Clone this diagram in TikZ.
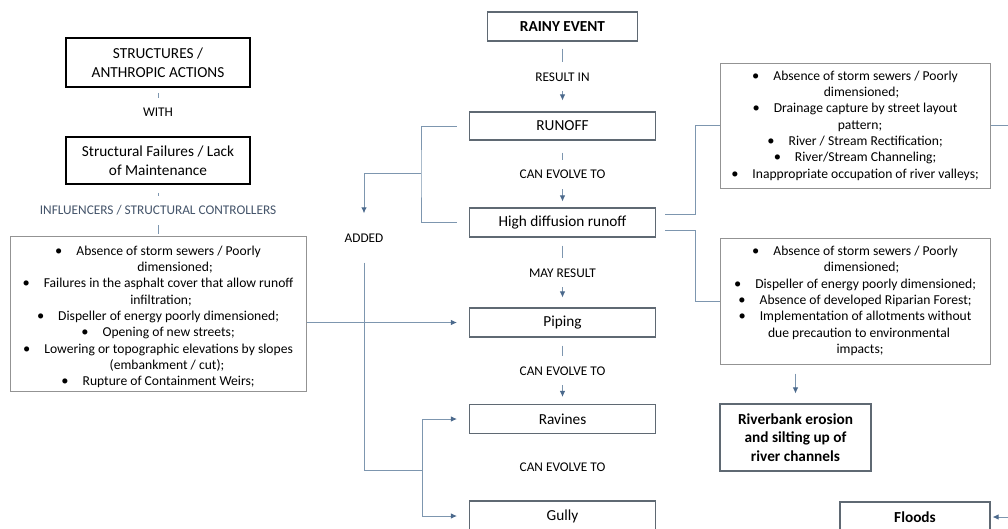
\documentclass[tikz,border=0pt]{standalone}
\usepackage{fontspec}
\setmainfont{Carlito}
\usetikzlibrary{positioning, calc, arrows.meta}

\definecolor{linie}{RGB}{125,150,175}
\definecolor{pfeilfarbe}{RGB}{75,105,140}
\definecolor{rahmen}{RGB}{95,105,115}
\definecolor{steuer}{RGB}{68,84,106}

\tikzset{
    kasten/.style={
        draw=rahmen,         % dunkelgraue Kontur
        line width=1.1pt,
        fill=white,
        inner sep=0pt,
        align=center,
        font=\fontsize{15.3}{18.6}\selectfont
    },
    hauptkasten/.style={
        kasten,
        draw=black,          % schwarze, kräftige Kontur
        line width=1.6pt
    },
    liste/.style={
        kasten,
        draw=gray!85,
        line width=1pt,
        font=\fontsize{13.6}{16.35}\selectfont
    },
    beschriftung/.style={
        fill=white,          % deckt die Linie hinter dem Text ab
        inner xsep=2pt,
        inner ysep=10pt,
        text height=9pt,
        text depth=0pt,
        font=\fontsize{13.3}{16}\selectfont
    },
    verbinder/.style={draw=linie, line width=0.9pt},
    pfeil/.style={verbinder, -{Latex[length=6pt,width=5.5pt,color=pfeilfarbe]}}
}

% Aufzählungspunkt mit Abstand wie im Original
\newcommand{\pkt}{{\fontsize{14.5}{10}\selectfont\textbullet}\hspace{14pt}}

\begin{document}
\begin{tikzpicture}[x=1pt, y=-1pt]

    \useasboundingbox (0,0) rectangle (1008,528);
    \clip (0,0) rectangle (1008,528);

    % Linke Spalte: Ursachen
    \node[hauptkasten, minimum width=184pt, minimum height=49pt] (struktur) at (158,62.5)
        {STRUCTURES /\\ANTHROPIC ACTIONS};
    \node[hauptkasten, minimum width=184pt, minimum height=47pt] (versagen) at (158,160.5)
        {Structural Failures / Lack\\of Maintenance};
    \node[liste, minimum width=296pt, minimum height=155pt] (einfluss) at (158,313.5)
        {\rule{0pt}{16pt}\pkt Absence of storm sewers / Poorly\\
         \hspace*{34pt}dimensioned;\\
         \pkt Failures in the asphalt cover that allow runoff\\
         \hspace*{6pt}infiltration;\\
         \pkt Dispeller of energy poorly dimensioned;\\
         \pkt Opening of new streets;\\
         \pkt Lowering or topographic elevations by slopes\\
         \hspace*{18pt}(embankment / cut);\\
         \pkt Rupture of Containment Weirs;};

    % Mittlere Spalte: Prozesskette
    \node[kasten, font=\fontsize{15.3}{18.6}\selectfont\bfseries, minimum width=150pt, minimum height=29pt] (regen) at (562.5,26.5) {RAINY EVENT};
    \node[kasten, minimum width=186pt, minimum height=28pt] (abfluss) at (562.5,126) {RUNOFF};
    \node[kasten, minimum width=186pt, minimum height=29pt] (diffus) at (562.5,222.5) {High diffusion runoff};
    \node[kasten, minimum width=186pt, minimum height=29pt] (piping) at (562.5,322.5) {Piping};
    \node[kasten, minimum width=186pt, minimum height=29pt] (ravinen) at (562.5,419) {Ravines};
    \node[kasten, minimum width=186pt, minimum height=30pt] (gully) at (562.5,516) {Gully};

    % Rechte Spalte: Einflussfaktoren und Folgen
    \node[liste, minimum width=270pt, minimum height=125pt] (liste1) at (855,125.5)
        {\pkt Absence of storm sewers / Poorly\\
         \hspace*{13pt}dimensioned;\\
         \pkt Drainage capture by street layout\\
         \hspace*{10pt}pattern;\\
         \pkt River / Stream Rectification;\\
         \pkt River/Stream Channeling;\\
         \pkt Inappropriate occupation of river valleys;};
    \node[liste, minimum width=270pt, minimum height=126pt] (liste2) at (855,301)
        {\pkt Absence of storm sewers / Poorly\\
         \hspace*{13pt}dimensioned;\\
         \pkt Dispeller of energy poorly dimensioned;\\
         \pkt Absence of developed Riparian Forest;\\
         \pkt Implementation of allotments without\\
         \hspace*{8pt}due precaution to environmental\\
         \hspace*{10pt}impacts;};
    \node[kasten, font=\fontsize{15.3}{18.8}\selectfont\bfseries, minimum width=151pt, minimum height=67pt] (fluss) at (795.5,437.5)
        {Riverbank erosion\\and silting up of\\river channels};
    \node[kasten, font=\fontsize{15.3}{18.6}\selectfont\bfseries, minimum width=150pt, minimum height=30pt] (floods) at (915,517) {Floods};

    % Verbindungen links
    \draw[pfeil, shorten <=5pt, shorten >=9pt] (struktur) -- node[beschriftung] {WITH} (versagen);
    \draw[verbinder, shorten <=8pt, shorten >=2pt] (versagen) -- node[beschriftung, text=steuer] {INFLUENCERS / STRUCTURAL CONTROLLERS} (einfluss);
    \draw[pfeil, shorten >=12pt] (einfluss.east |- piping.west) -- (piping.west);

    % Verbindungen in der Mitte
    \draw[pfeil, shorten <=7pt, shorten >=11pt] (regen) -- node[beschriftung] {RESULT IN} (abfluss);
    \draw[pfeil, shorten <=12pt, shorten >=6pt] (abfluss) -- node[beschriftung] {CAN EVOLVE TO} (diffus);
    \draw[pfeil, shorten <=8pt, shorten >=10pt] (diffus) -- node[beschriftung] {MAY RESULT} (piping);
    \draw[pfeil, shorten <=8pt, shorten >=7pt] (piping) -- node[beschriftung] {CAN EVOLVE TO} (ravinen);
    \path (ravinen) -- node[beschriftung] {CAN EVOLVE TO} (gully);

    % Zweig "ADDED"
    \coordinate (abzweig) at (421,173);
    \coordinate (sammel) at (422,470);
    \node[beschriftung] (added) at (364,238) {ADDED};
    \draw[verbinder] ([xshift=-12pt]abfluss.west) -| (abzweig) |- ([xshift=-12pt]diffus.west);
    \draw[pfeil, shorten >=10pt] (abzweig) -| (added.north);
    \draw[verbinder, shorten <=10pt] (added.south) |- (sammel);
    \draw[pfeil, shorten >=12pt] (sammel) |- (ravinen.west);
    \draw[pfeil, shorten >=12pt] (sammel) |- (gully.west);

    % Verbindungen rechts
    \draw[verbinder, shorten <=9pt] ([yshift=8pt]diffus.east) -- ++(39,0) |- (liste1.west);
    \draw[verbinder, shorten <=9pt] ([yshift=-8pt]diffus.east) -- ++(39,0) |- (liste2.west);
    \draw[verbinder] (liste1.east) -- ++(30,0);
    \draw[pfeil, shorten <=9pt, shorten >=10pt] (liste2.south -| fluss.north) -- (fluss.north);
    \draw[pfeil, shorten >=2pt] ([xshift=30pt]floods.east) -- (floods.east);

\end{tikzpicture}
\end{document}
